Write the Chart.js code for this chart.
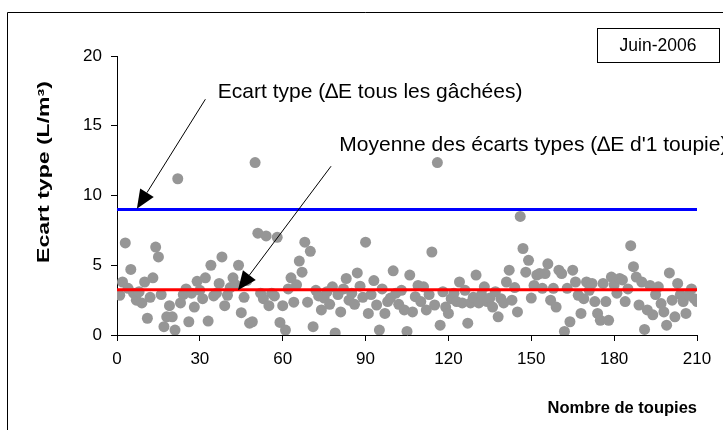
<!DOCTYPE html>
<html>
<head>
<meta charset="utf-8">
<script src="https://cdn.jsdelivr.net/npm/chart.js@4.4.1/dist/chart.umd.min.js"></script>
<style>
  html, body { margin: 0; padding: 0; background: #fff; }
  #wrap { width: 723px; height: 430px; position: relative; }
</style>
</head>
<body>
<div id="wrap"><canvas id="chart"></canvas></div>
<script>
// Ecart type par toupie (L/m3), toupies 1..210
const ecartTypes = [
  2.85, 3.8, 6.6, 3.35, 4.7, 3.0, 2.5, 3.1, 2.3, 3.8,
  1.2, 2.7, 4.1, 6.3, 5.6, 2.9, 0.6, 1.3, 2.1, 1.3,
  0.35, 11.2, 2.3, 2.9, 3.3, 0.95, 3.0, 2.0, 3.85, 3.2,
  2.6, 4.1, 1.0, 5.0, 2.8, 3.0, 3.7, 5.6, 2.1, 2.85,
  3.4, 4.1, 3.6, 5.0, 1.6, 2.7, 3.9, 0.85, 0.95, 12.36,
  7.3, 3.0, 2.6, 7.1, 2.1, 3.0, 2.8, 7.0, 0.9, 2.1,
  0.35, 3.3, 4.1, 2.35, 3.6, 5.3, 4.5, 6.65, 2.35, 6.0,
  0.6, 3.2, 2.8, 1.8, 2.65, 3.1, 2.2, 3.45, 0.15, 2.9,
  1.65, 3.3, 4.05, 2.5, 3.0, 2.2, 4.45, 3.5, 2.7, 6.65,
  1.55, 2.9, 3.9, 2.15, 0.35, 3.3, 1.55, 2.4, 2.65, 4.6,
  3.0, 2.2, 3.2, 1.8, 0.25, 4.3, 1.65, 2.75, 3.55, 2.4,
  3.45, 1.8, 2.9, 5.95, 2.15, 12.36, 0.7, 3.1, 2.0, 1.55,
  2.6, 3.0, 2.4, 3.8, 2.3, 3.2, 0.85, 2.3, 2.7, 4.3,
  2.3, 2.9, 3.45, 2.4, 2.65, 2.0, 3.1, 1.3, 2.6, 2.3,
  3.8, 4.65, 2.5, 3.4, 1.65, 8.5, 6.2, 4.5, 5.35, 2.65,
  3.55, 4.3, 4.4, 3.35, 4.4, 5.1, 2.5, 3.35, 2.0, 4.65,
  4.4, 0.25, 3.35, 0.95, 4.65, 3.8, 2.85, 1.55, 2.6, 3.8,
  3.2, 3.7, 2.4, 1.55, 1.05, 3.7, 2.4, 1.05, 4.15, 3.6,
  3.0, 4.05, 3.95, 2.4, 3.3, 6.4, 4.9, 4.15, 2.15, 3.8,
  0.4, 1.8, 3.55, 1.45, 2.9, 3.45, 2.25, 1.65, 0.7, 4.45,
  2.5, 1.3, 3.7, 2.9, 2.4, 1.55, 2.85, 3.3, 2.6, 2.4
];
const toupies = ecartTypes.map((v, i) => i + 1);

const ecartTypeGlobal = [9.0];    // ΔE tous les gâchées
const moyenneEcarts = [3.25];     // ΔE d'1 toupie
const xRange = [0, 210];
const xTicks = [0, 30, 60, 90, 120, 150, 180, 210];
const yTicks = [0, 5, 10, 15, 20];

const FONT = "'Liberation Sans', Arial, sans-serif";

// annotations: text + arrow (tail -> tip), in data units
const notes = [
  { text: 'Ecart type (\u2206E tous les g\u00e2ch\u00e9es)', tx: 36.5, ty: 17.4, tail: [32, 16.9], tip: [7.2, 9.05] },
  { text: "Moyenne des \u00e9carts types (\u2206E d'1 toupie)", tx: 80.5, ty: 13.6, tail: [77.5, 12.1], tip: [43.8, 3.2] }
];

const decor = {
  id: 'decor',
  beforeDraw(chart) {
    const c = chart.ctx;
    c.save();
    c.strokeStyle = '#000';
    c.lineWidth = 1;
    c.beginPath();
    c.moveTo(7.5, 440); c.lineTo(7.5, 12.5); c.lineTo(740, 12.5);
    c.stroke();
    c.restore();
  },
  afterDraw(chart) {
    const c = chart.ctx, xs = chart.scales.x, ys = chart.scales.y;
    c.save();
    c.font = '21px ' + FONT;
    c.fillStyle = '#000';
    c.textBaseline = 'middle';
    notes.forEach(n => {
      c.textAlign = 'left';
      c.fillText(n.text, xs.getPixelForValue(n.tx), ys.getPixelForValue(n.ty));
      const x0 = xs.getPixelForValue(n.tail[0]), y0 = ys.getPixelForValue(n.tail[1]);
      const x1 = xs.getPixelForValue(n.tip[0]), y1 = ys.getPixelForValue(n.tip[1]);
      const a = Math.atan2(y1 - y0, x1 - x0);
      const L = 19, W = 8;
      const bx = x1 - L * Math.cos(a), by = y1 - L * Math.sin(a);
      c.strokeStyle = '#000';
      c.lineWidth = 1;
      c.beginPath(); c.moveTo(x0, y0); c.lineTo(bx, by); c.stroke();
      c.beginPath();
      c.moveTo(x1, y1);
      c.lineTo(bx + W * Math.sin(a), by - W * Math.cos(a));
      c.lineTo(bx - W * Math.sin(a), by + W * Math.cos(a));
      c.closePath();
      c.fill();
    });

    // y axis title (stretched along its length, like the original)
    c.save();
    c.translate(45, 172);
    c.rotate(-Math.PI / 2);
    c.scale(1.44, 1);
    c.font = 'bold 16px ' + FONT;
    c.textAlign = 'center';
    c.fillText('Ecart type (L/m\u00b3)', 0, 0);
    c.restore();

    // date box
    c.fillStyle = '#fff';
    c.fillRect(597.5, 28.5, 122, 34);
    c.strokeRect(597.5, 28.5, 122, 34);
    c.fillStyle = '#000';
    c.font = '17.5px ' + FONT;
    c.textAlign = 'center';
    c.fillText('Juin-2006', 658, 46);
    c.restore();
  }
};

const hLine = (v) => [{ x: xRange[0], y: v }, { x: xRange[1], y: v }];

new Chart(document.getElementById('chart'), {
  type: 'scatter',
  data: {
    datasets: [
      {
        label: 'Ecart type par toupie',
        data: toupies.map((x, i) => ({ x, y: ecartTypes[i] })),
        backgroundColor: '#969696',
        borderWidth: 0,
        pointRadius: 5.5,
        order: 2
      },
      {
        type: 'line',
        label: 'Ecart type global',
        data: hLine(ecartTypeGlobal[0]),
        borderColor: '#0000ff',
        borderWidth: 3,
        pointRadius: 0,
        order: 1
      },
      {
        type: 'line',
        label: 'Moyenne des écarts types',
        data: hLine(moyenneEcarts[0]),
        borderColor: '#ff0000',
        borderWidth: 3,
        pointRadius: 0,
        order: 1
      }
    ]
  },
  options: {
    responsive: true,
    maintainAspectRatio: false,
    animation: false,
    layout: { padding: { left: 20, right: 26, top: 56, bottom: 0 } },
    plugins: { legend: { display: false }, tooltip: { enabled: false } },
    scales: {
      x: {
        type: 'linear',
        min: xRange[0], max: xRange[1],
        afterBuildTicks: s => { s.ticks = xTicks.map(v => ({ value: v })); },
        afterFit: s => { s.height = 95; },
        grid: { drawOnChartArea: false, color: '#000', tickLength: 6 },
        border: { color: '#000', width: 1 },
        ticks: { color: '#000', font: { family: FONT, size: 17 }, padding: 8, maxRotation: 0 },
        title: {
          display: true, text: 'Nombre de toupies', align: 'end', color: '#000',
          font: { family: FONT, size: 16.5, weight: 'bold' }, padding: { top: 0, bottom: 12 }
        }
      },
      y: {
        min: 0, max: 20,
        afterBuildTicks: s => { s.ticks = yTicks.map(v => ({ value: v })); },
        afterFit: s => { s.width = 97; },
        grid: { drawOnChartArea: false, color: '#000', tickLength: 6 },
        border: { color: '#000', width: 1 },
        ticks: { color: '#000', font: { family: FONT, size: 17 }, padding: 9 },
        title: { display: false }
      }
    }
  },
  plugins: [decor]
});
</script>
</body>
</html>
